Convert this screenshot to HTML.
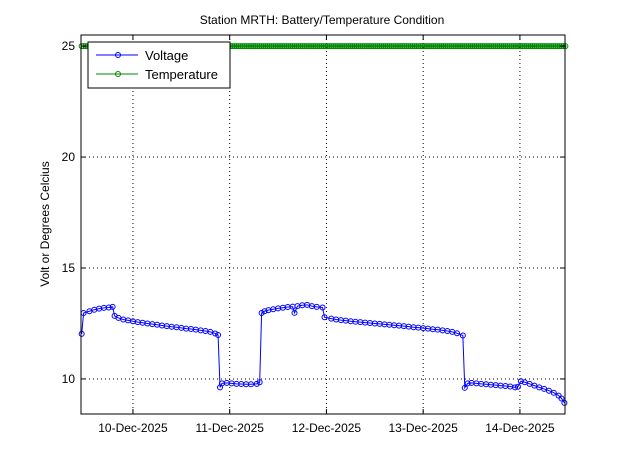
<!DOCTYPE html>
<html><head><meta charset="utf-8"><style>
body{margin:0;background:#fff;}
svg{display:block;font-family:"Liberation Sans",sans-serif;}
</style></head><body>
<svg id="chart" width="623" height="466">
<rect x="0" y="0" width="623" height="466" fill="#fff"/>
<text x="322" y="24" font-size="12" text-anchor="middle">Station MRTH: Battery/Temperature Condition</text>
<text transform="translate(49,224) rotate(-90)" font-size="12" text-anchor="middle">Volt or Degrees Celcius</text>
<g id="grid"></g>
<g id="series"></g>
<rect x="81" y="35" width="484" height="379" fill="none" stroke="#000" stroke-width="1"/>
<g id="ticks"></g>
<g>
<rect x="88" y="42" width="142" height="46" fill="#fff" stroke="#000"/>
<line x1="96" y1="55" x2="138" y2="55" stroke="#00f"/><circle cx="118" cy="55" r="2.5" fill="none" stroke="#00f"/>
<text x="145" y="60" font-size="13">Voltage</text>
<line x1="96" y1="74" x2="138" y2="74" stroke="#080"/><circle cx="118" cy="74" r="2.5" fill="none" stroke="#080"/>
<text x="145" y="79" font-size="13">Temperature</text>
</g>
</svg>
<script>
const xTickValues=[10,11,12,13,14];
const xTickLabels=["10-Dec-2025","11-Dec-2025","12-Dec-2025","13-Dec-2025","14-Dec-2025"];
const yTickValues=[10,15,20,25];
const yTickLabels=["10","15","20","25"];
const voltTimes=[9.47,9.49,9.55,9.60,9.65,9.70,9.75,9.79,9.81,9.85,9.90,9.95,10.00,10.05,10.10,10.15,10.20,10.25,10.30,10.35,10.40,10.45,10.50,10.55,10.60,10.65,10.70,10.75,10.80,10.85,10.88,10.90,10.92,10.97,11.02,11.07,11.12,11.17,11.22,11.28,11.31,11.33,11.36,11.40,11.45,11.50,11.55,11.60,11.65,11.67,11.70,11.75,11.80,11.85,11.90,11.96,11.98,12.05,12.10,12.15,12.20,12.25,12.30,12.35,12.40,12.45,12.50,12.55,12.60,12.65,12.70,12.75,12.80,12.85,12.90,12.95,13.00,13.05,13.10,13.15,13.20,13.25,13.30,13.35,13.41,13.43,13.46,13.50,13.55,13.60,13.65,13.70,13.75,13.80,13.85,13.90,13.95,13.98,14.01,14.05,14.10,14.15,14.20,14.25,14.30,14.35,14.40,14.43,14.46];
const voltValues=[12.03,12.97,13.05,13.12,13.17,13.20,13.22,13.25,12.84,12.75,12.68,12.64,12.60,12.56,12.53,12.50,12.47,12.44,12.41,12.38,12.35,12.33,12.30,12.27,12.25,12.22,12.19,12.16,12.12,12.05,11.98,9.62,9.80,9.82,9.80,9.78,9.77,9.76,9.76,9.78,9.85,12.97,13.05,13.10,13.14,13.18,13.21,13.24,13.26,12.98,13.28,13.32,13.34,13.28,13.25,13.22,12.78,12.72,12.68,12.65,12.63,12.60,12.58,12.56,12.54,12.52,12.50,12.48,12.46,12.44,12.42,12.40,12.38,12.36,12.33,12.31,12.29,12.27,12.24,12.22,12.19,12.16,12.12,12.06,11.96,9.60,9.80,9.82,9.80,9.78,9.76,9.74,9.72,9.70,9.68,9.66,9.62,9.65,9.90,9.85,9.78,9.70,9.62,9.55,9.47,9.38,9.25,9.12,8.92];
const tempTimes=[];for(let t=9.47;t<=14.47;t+=0.02)tempTimes.push(t);
const tempValue=25;
const X0=81,X1=565,Y0=414,Y1=35,T0=9.463,T1=14.466,V0=8.42,V1=25.5;
function sx(t){return X0+(t-T0)/(T1-T0)*(X1-X0);}
function sy(v){return Y0-(v-V0)/(V1-V0)*(Y0-Y1);}
const NS="http://www.w3.org/2000/svg";
function mk(tag,attrs,parent){const e=document.createElementNS(NS,tag);for(const k in attrs)e.setAttribute(k,attrs[k]);parent.appendChild(e);return e;}
const grid=document.getElementById('grid'),ticks=document.getElementById('ticks'),series=document.getElementById('series');
xTickValues.forEach((v,i)=>{const x=sx(v);
 const g=mk('line',{x1:x,x2:x,y1:Y1,y2:Y0,stroke:'#000','stroke-dasharray':'1,3'},grid);
 
 
 mk('line',{x1:x,x2:x,y1:Y0,y2:Y0-5,stroke:'#000'},ticks);
 mk('line',{x1:x,x2:x,y1:Y1,y2:Y1+5,stroke:'#000'},ticks);
 const t=mk('text',{x:x,y:Y0+18,'font-size':12,'text-anchor':'middle'},ticks);t.textContent=xTickLabels[i];
 
 
});
yTickValues.forEach((v,i)=>{const y=sy(v);
 const g=mk('line',{x1:X0,x2:X1,y1:y,y2:y,stroke:'#000','stroke-dasharray':'1,3'},grid);
 
 
 mk('line',{x1:X0,x2:X0+5,y1:y,y2:y,stroke:'#000'},ticks);
 mk('line',{x1:X1,x2:X1-5,y1:y,y2:y,stroke:'#000'},ticks);
 const t=mk('text',{x:X0-6,y:y+4,'font-size':12,'text-anchor':'end'},ticks);t.textContent=yTickLabels[i];
 
 
});
function draw(ts,vs,color,name){
 const g=mk('g',{},series);
 
 
 mk('polyline',{points:ts.map((t,i)=>sx(t)+','+sy(vs[i])).join(' '),fill:'none',stroke:color,'stroke-width':1},g);
 ts.forEach((t,i)=>{const c=mk('circle',{cx:sx(t),cy:sy(vs[i]),r:2.5,fill:'none',stroke:color,'stroke-width':1},g);
  
  });
}
draw(tempTimes,tempTimes.map(()=>tempValue),'#080','temperature-series');
draw(voltTimes,voltValues,'#00f','voltage-series');
</script>
</body></html>
